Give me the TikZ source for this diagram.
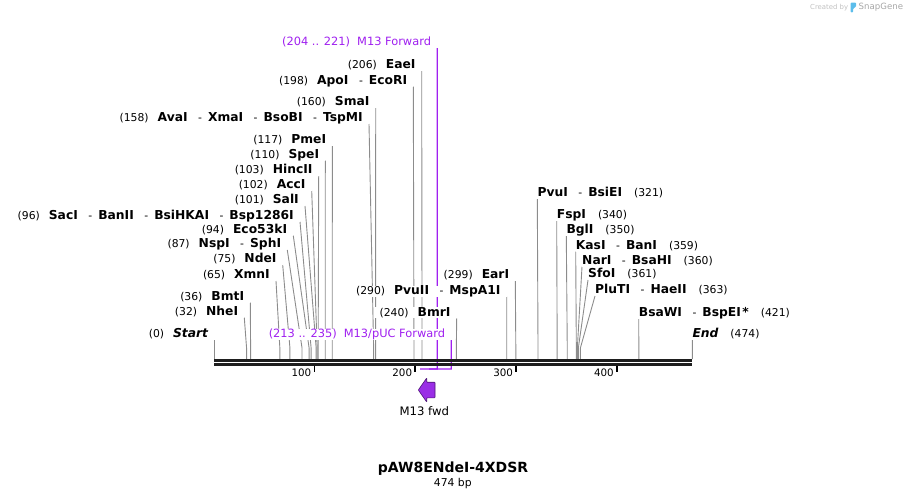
\documentclass[tikz,border=0pt]{standalone}
\usepackage{fontspec}
\setmainfont{DejaVu Sans}
\usetikzlibrary{positioning,backgrounds}

\definecolor{leadgray}{HTML}{8C8C8C}
\definecolor{mapdark}{HTML}{1E1E1E}
\definecolor{primerpurple}{HTML}{A020F0}
\definecolor{featfill}{HTML}{9A2EE6}
\definecolor{featline}{HTML}{4E1577}
\definecolor{snapblue}{HTML}{5CBDEB}
\definecolor{snapgray}{HTML}{A6A6A6}

\newcommand{\cutpos}[1]{{\fontsize{10.8}{13}\selectfont(#1)}}
\newcommand{\enz}[1]{{\fontsize{12.3}{14}\selectfont\bfseries #1}}
\newcommand{\ensep}{\hspace{10.5pt}{\fontsize{10.8}{13}\selectfont-}\hspace{6pt}}
\newcommand{\lcut}[2]{\cutpos{#1}\hspace{9pt}#2}
\newcommand{\rcut}[2]{#1\hspace{12pt}\cutpos{#2}}

\begin{document}
\begin{tikzpicture}[x=1pt,y=-1pt,inner sep=0pt,
                    leader/.style={draw=leadgray,line width=0.9pt,
                      to path={-- ([yshift=11pt]\tikztotarget) -- (\tikztotarget)}}]
  \tikzstyle{cutL}=[anchor=south east,fill=white,inner xsep=6pt,text height=9pt,text depth=1.9pt]
  \tikzstyle{cutR}=[anchor=south west,fill=white,text height=9pt,text depth=1.9pt]
  \tikzstyle{primer}=[cutL,text=primerpurple,font=\fontsize{11.4}{13}\selectfont]
  \tikzstyle{primerline}=[draw=primerpurple,line width=1.2pt]
  \tikzstyle{mapline}=[draw=mapdark,line width=2.7pt]
  \tikzstyle{tick}=[draw=black,line width=1.8pt]
  \tikzstyle{ticklabel}=[font=\fontsize{10.3}{12}\selectfont]

  \useasboundingbox (0,0) rectangle (907,498);

  % sites on the map, in bp
  \begin{scope}[shift={(214.3,0)},x=1.00844pt]
    \coordinate (s0)   at (0,359);
    \coordinate (s32)  at (32,359);
    \coordinate (s36)  at (36,359);
    \coordinate (s65)  at (65,359);
    \coordinate (s75)  at (75,359);
    \coordinate (s87)  at (87,359);
    \coordinate (s94)  at (94,359);
    \coordinate (s96)  at (96,359);
    \coordinate (s101) at (101,359);
    \coordinate (s102) at (102,359);
    \coordinate (s103) at (103,359);
    \coordinate (s110) at (110,359);
    \coordinate (s117) at (117,359);
    \coordinate (s158) at (158,359);
    \coordinate (s160) at (160,359);
    \coordinate (s198) at (198,359);
    \coordinate (s206) at (206,359);
    \coordinate (s240) at (240,359);
    \coordinate (s290) at (290,359);
    \coordinate (s299) at (299,359);
    \coordinate (s321) at (321,359);
    \coordinate (s340) at (340,359);
    \coordinate (s350) at (350,359);
    \coordinate (s359) at (359,359);
    \coordinate (s360) at (360,359);
    \coordinate (s361) at (361,359);
    \coordinate (s363) at (363,359);
    \coordinate (s421) at (421,359);
    \coordinate (s474) at (474,359);
    % map ends
    \coordinate (m0a)   at (0,360.5);
    \coordinate (m474a) at (474,360.5);
    \coordinate (m0b)   at (0,364.4);
    \coordinate (m474b) at (474,364.4);
    % ticks
    \coordinate (t100a) at (99.3,366);  \coordinate (t100b) at (99.3,372.3);
    \coordinate (t200a) at (199.3,366); \coordinate (t200b) at (199.3,372.3);
    \coordinate (t300a) at (299.3,366); \coordinate (t300b) at (299.3,372.3);
    \coordinate (t400a) at (399.3,366); \coordinate (t400b) at (399.3,372.3);
    % primer ends
    \coordinate (p204) at (204,369);
    \coordinate (p221) at (221,369);
    \coordinate (p213) at (213,369);
    \coordinate (p235) at (235,369);
  \end{scope}

  % cut sites, left side
  \node[cutL] (l206) at (421.7,71)   {\lcut{206}{\enz{EaeI}}};
  \node[cutL] (l198) at (413.3,86.7) {\lcut{198}{\enz{ApoI}\ensep\enz{EcoRI}}};
  \node[cutL] (l160) at (375.7,108)  {\lcut{160}{\enz{SmaI}}};
  \node[cutL] (l158) at (369,124)    {\lcut{158}{\enz{AvaI}\ensep\enz{XmaI}\ensep\enz{BsoBI}\ensep\enz{TspMI}}};
  \node[cutL] (l117) at (332.3,146)  {\lcut{117}{\enz{PmeI}}};
  \node[cutL] (l110) at (325.3,160.7) {\lcut{110}{\enz{SpeI}}};
  \node[cutL] (l103) at (318.7,176)  {\lcut{103}{\enz{HincII}}};
  \node[cutL] (l102) at (311.7,190.7) {\lcut{102}{\enz{AccI}}};
  \node[cutL] (l101) at (305,206)    {\lcut{101}{\enz{SalI}}};
  \node[cutL] (l96)  at (300,221.7)  {\lcut{96}{\enz{SacI}\ensep\enz{BanII}\ensep\enz{BsiHKAI}\ensep\enz{Bsp1286I}}};
  \node[cutL] (l94)  at (293.3,235.7) {\lcut{94}{\enz{Eco53kI}}};
  \node[cutL] (l87)  at (287.3,250)  {\lcut{87}{\enz{NspI}\ensep\enz{SphI}}};
  \node[cutL] (l75)  at (282.7,265)  {\lcut{75}{\enz{NdeI}}};
  \node[cutL] (l65)  at (276,281)    {\lcut{65}{\enz{XmnI}}};
  \node[cutL] (l36)  at (250.3,302.7) {\lcut{36}{\enz{BmtI}}};
  \node[cutL] (l32)  at (244.3,317.7) {\lcut{32}{\enz{NheI}}};
  \node[cutL] (l0)   at (214.3,340)  {\lcut{0}{\enz{\itshape Start}}};
  \node[cutL] (l299) at (515.3,281)  {\lcut{299}{\enz{EarI}}};
  \node[cutL] (l290) at (506.7,296.7) {\lcut{290}{\enz{PvuII}\ensep\enz{MspA1I}}};
  \node[cutL] (l240) at (456.7,318.3) {\lcut{240}{\enz{BmrI}}};

  % cut sites, right side
  \node[cutR] (r321) at (537.3,199)  {\rcut{\enz{PvuI}\ensep\enz{BsiEI}}{321}};
  \node[cutR] (r340) at (556.7,221)  {\rcut{\enz{FspI}}{340}};
  \node[cutR] (r350) at (566.3,236)  {\rcut{\enz{BglI}}{350}};
  \node[cutR] (r359) at (575.7,251.7) {\rcut{\enz{KasI}\ensep\enz{BanI}}{359}};
  \node[cutR] (r360) at (582,266.7)  {\rcut{\enz{NarI}\ensep\enz{BsaHI}}{360}};
  \node[cutR] (r361) at (588,280)    {\rcut{\enz{SfoI}}{361}};
  \node[cutR] (r363) at (595,296)    {\rcut{\enz{PluTI}\ensep\enz{HaeII}}{363}};
  \node[cutR] (r421) at (638.7,319)  {\rcut{\enz{BsaWI}\ensep\enz{BspEI\kern1.5pt*}}{421}};
  \node[cutR] (r474) at (692.3,340)  {\rcut{\enz{\itshape End}}{474}};

  % primers
  \node[primer] (m13f)  at (437.2,48)  {(204 .. 221)\hspace{7pt}M13 Forward};
  \node[primer] (m13pf) at (451.3,340) {(213 .. 235)\hspace{7pt}M13/pUC Forward};

  \begin{scope}[on background layer]
    \path (l206.south east) edge[leader] (s206);
    \path (l198.south east) edge[leader] (s198);
    \path (l160.south east) edge[leader] (s160);
    \path (l158.south east) edge[leader] (s158);
    \path (l117.south east) edge[leader] (s117);
    \path (l110.south east) edge[leader] (s110);
    \path (l103.south east) edge[leader] (s103);
    \path (l102.south east) edge[leader] (s102);
    \path (l101.south east) edge[leader] (s101);
    \path (l96.south east)  edge[leader] (s96);
    \path (l94.south east)  edge[leader] (s94);
    \path (l87.south east)  edge[leader] (s87);
    \path (l75.south east)  edge[leader] (s75);
    \path (l65.south east)  edge[leader] (s65);
    \path (l36.south east)  edge[leader] (s36);
    \path (l32.south east)  edge[leader] (s32);
    \path (l0.south east)   edge[leader] (s0);
    \path (l299.south east) edge[leader] (s299);
    \path (l290.south east) edge[leader] (s290);
    \path (l240.south east) edge[leader] (s240);
    \path (r321.south west) edge[leader] (s321);
    \path (r340.south west) edge[leader] (s340);
    \path (r350.south west) edge[leader] (s350);
    \path (r359.south west) edge[leader] (s359);
    \path (r360.south west) edge[leader] (s360);
    \path (r361.south west) edge[leader] (s361);
    \path (r363.south west) edge[leader] (s363);
    \path (r421.south west) edge[leader] (s421);
    \path (r474.south west) edge[leader] (s474);
    \draw[primerline] (m13f.south east) -- (p221) -- (p204);
    \draw[primerline] (m13pf.south east) -- (p235) -- (p213);
  \end{scope}

  % the sequence
  \draw[mapline] (m0a) -- (m474a);
  \draw[mapline] (m0b) -- (m474b);
  \draw[tick] (t100a) -- (t100b);
  \draw[tick] (t200a) -- (t200b);
  \draw[tick] (t300a) -- (t300b);
  \draw[tick] (t400a) -- (t400b);
  \node[ticklabel,left=3pt of t100b] (n100) {100};
  \node[ticklabel,left=3pt of t200b] (n200) {200};
  \node[ticklabel,left=3pt of t300b] (n300) {300};
  \node[ticklabel,left=3pt of t400b] (n400) {400};

  % feature
  \draw[fill=featfill,draw=featline,line width=0.6pt,rounded corners=0.6pt]
    (435,382.2) -- (426.7,382.2) -- (426.7,378) -- (418.3,390)
    -- (426.7,402) -- (426.7,397.8) -- (435,397.8) -- cycle;
  \node[font=\fontsize{11.7}{14}\selectfont] (fwd) at (424.3,411) {M13 fwd};

  % name and size
  \node[anchor=base,font=\fontsize{14}{16}\selectfont\bfseries] (title) at (453,472.4) {pAW8ENdeI-4XDSR};
  \node[anchor=base,font=\fontsize{10.8}{13}\selectfont] (size) at (452.8,486.2) {474 bp};

  % logo
  \node[anchor=west,text=snapgray!70,font=\fontsize{6.9}{8}\selectfont] (created) at (810,7.5) {Created by};
  \fill[snapblue,rounded corners=1pt] (850.5,2.5) -- (856,2.5) -- (856,7) -- (853.2,8.2) -- (853.2,12.3) -- (850.5,12.3) -- cycle;
  \node[anchor=west,text=snapgray,font=\fontsize{8.6}{10}\selectfont] (snapgene) at (858.5,7.5) {SnapGene};
\end{tikzpicture}
\end{document}
